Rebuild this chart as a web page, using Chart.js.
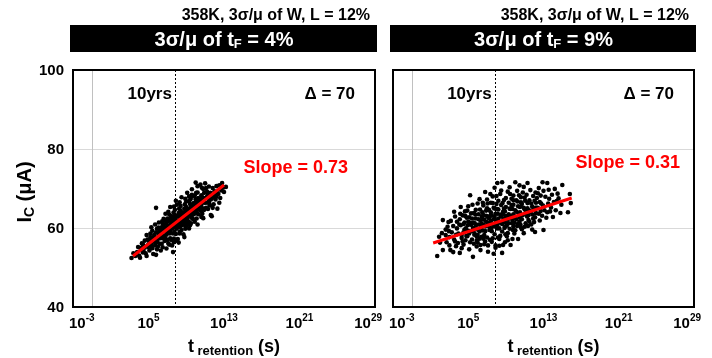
<!DOCTYPE html>
<html>
<head>
<meta charset="utf-8">
<script src="https://cdn.jsdelivr.net/npm/chart.js@4.4.1/dist/chart.umd.min.js"></script>
<style>
  html, body { margin: 0; padding: 0; background: #fff; }
  #wrap { position: relative; width: 712px; height: 358px; }
  #wrap canvas { position: absolute; left: 0; top: 0; }
</style>
</head>
<body>
<div id="wrap">
  <canvas id="left-panel" width="712" height="358"></canvas>
  <canvas id="right-panel" width="712" height="358"></canvas>
</div>
<script>
const xTickExps = [-3, 5, 13, 21, 29];
const yTicks = [40, 60, 80, 100];
const yGrid = [60, 80];
const refExp = -1;       // thin grey reference line
const tenYrsExp = 7.8;   // dashed "10yrs" marker
const conditionText = '358K, 3σ/μ of W, L = 12%';
const tfSpread = ['4%', '9%'];
const slopes = ['0.73', '0.31'];
const deltaValue = 70;

// [log10(t_retention / s), Ic (uA)]
const leftPts = [
  [3.2,52.4],[3.4,53.6],[3.6,52.9],
  [3.9,55.2],[4.0,53.0],[4.1,52.5],[4.2,54.6],[3.8,53.9],[4.3,56.1],[4.25,54.9],[4.4,53.8],
  [4.5,54.0],[4.6,56.8],[4.7,53.6],[4.8,58.2],[4.9,55.6],[4.6,55.0],[4.8,52.9],[4.9,57.1],[4.4,55.9],[4.5,55.2],
  [5.1,54.3],[5.2,57.7],[5.3,55.8],[5.4,59.3],[5.5,53.4],[5.3,56.9],[5.2,58.6],[5.4,54.9],[5.1,56.2],[5.5,57.5],[5.0,55.1],
  [5.05,56.8],[5.25,55.3],[5.6,56.6],[5.0,57.0],[5.3,60.2],
  [5.7,56.4],[5.8,53.2],[5.8,65.1],[5.9,59.8],[6.0,55.3],[6.1,58.4],[5.7,60.9],[6.0,57.2],[5.9,54.6],[6.1,61.4],[5.8,58.9],[6.2,56.0],
  [5.65,57.9],[5.95,56.4],[6.15,59.2],[6.05,60.1],[5.6,58.2],[5.7,55.6],[6.2,58.1],
  [6.3,57.4],[6.4,60.2],[6.5,55.1],[6.6,62.3],[6.4,58.6],[6.7,56.7],[6.5,61.1],[6.3,54.3],[6.6,59.5],[6.8,63.6],[6.7,58.1],[6.4,56.0],[6.6,60.8],
  [6.35,59.1],[6.55,57.5],[6.75,60.0],[6.45,61.7],[6.85,57.2],[6.3,60.0],[6.6,58.0],[6.8,61.8],
  [6.9,58.3],[7.0,61.7],[7.1,56.1],[7.2,63.4],[7.0,59.5],[7.3,57.4],[7.1,60.6],[6.9,54.8],[7.2,62.2],[7.3,65.3],[7.0,58.9],[7.2,55.8],[7.1,64.1],[6.9,61.0],
  [7.05,60.3],[7.25,58.6],[7.15,61.9],[7.35,60.9],[6.95,56.9],[7.4,63.0],[6.9,59.7],[7.0,62.4],[7.3,59.2],[7.4,61.6],[7.4,57.0],
  [7.5,59.8],[7.6,62.7],[7.7,57.3],[7.8,64.6],[7.6,60.4],[7.9,58.5],[7.7,61.9],[7.5,55.6],[7.8,63.3],[7.9,66.9],[7.6,53.9],[7.8,60.1],[7.7,65.4],[7.5,62.0],[7.9,56.8],
  [7.55,61.1],[7.75,59.0],[7.85,62.2],[7.65,63.9],[7.95,60.8],[7.7,56.4],[7.6,58.6],[7.8,61.4],
  [8.1,60.9],[8.2,63.8],[8.3,58.6],[8.4,65.6],[8.2,61.7],[8.5,59.5],[8.3,63.1],[8.1,57.2],[8.4,64.4],[8.5,67.8],[8.2,56.3],[8.4,62.4],[8.3,66.5],[8.1,62.9],[8.5,60.7],
  [8.15,61.8],[8.35,60.2],[8.45,63.3],[8.25,64.9],[8.55,62.0],[8.3,59.0],[8.0,63.0],[8.0,59.8],[8.2,60.4],[8.4,61.3],[8.0,65.9],
  [8.7,62.0],[8.8,64.9],[8.9,59.8],[9.0,66.7],[8.8,62.6],[9.1,60.9],[8.9,64.2],[8.7,58.4],[9.0,65.3],[9.1,68.9],[8.8,57.7],[9.0,63.5],[8.9,67.4],[8.7,61.3],[9.1,62.2],
  [8.75,63.4],[8.95,61.5],[9.05,64.1],[8.85,66.0],[9.15,63.9],[8.95,60.4],[8.6,63.9],[8.6,61.1],[8.8,60.8],[9.0,62.1],[9.1,64.9],
  [9.3,63.0],[9.4,66.1],[9.5,61.2],[9.6,67.9],[9.4,64.8],[9.7,62.3],[9.5,65.4],[9.3,59.9],[9.6,69.8],[9.7,65.9],[9.4,60.7],[9.5,63.7],[9.6,68.4],[9.3,66.8],
  [9.35,64.4],[9.55,62.6],[9.65,65.4],[9.45,67.3],[9.75,64.0],[9.2,62.9],[9.3,61.5],[9.5,64.7],[9.6,63.2],[9.3,68.0],
  [9.9,64.2],[10.0,67.3],[10.1,62.4],[10.2,69.0],[10.0,65.8],[10.3,63.5],[10.1,66.6],[9.9,61.6],[10.2,70.6],[10.3,67.6],[10.0,71.5],[10.1,64.7],[10.2,60.9],[9.9,68.2],
  [9.95,65.5],[10.15,63.7],[10.25,66.5],[10.05,68.9],[10.35,65.1],[9.8,66.3],[9.8,63.5],[10.0,64.1],[10.2,67.4],
  [10.5,65.3],[10.6,68.3],[10.7,63.6],[10.8,69.9],[10.6,66.9],[10.9,64.6],[10.7,67.7],[10.5,71.0],[10.8,62.5],[10.9,68.9],[10.6,65.9],[11.0,71.3],
  [10.55,67.1],[10.75,65.0],[10.85,67.6],[10.65,70.2],[10.4,64.6],[10.4,66.8],[10.6,64.3],[10.9,66.4],[10.6,62.8],
  [11.1,66.4],[11.2,69.2],[11.3,64.8],[11.4,70.5],[11.2,67.6],[11.5,65.7],[11.3,68.6],[11.6,63.3],[11.4,66.8],[11.1,70.1],[11.7,63.0],
  [11.25,68.0],[11.45,66.1],[11.55,68.9],[11.1,65.1],[11.2,67.9],[11.6,67.2],
  [11.7,67.5],[11.8,70.1],[11.9,66.0],[12.0,69.3],[12.1,67.2],[11.8,65.1],[12.2,70.6],[11.9,68.4],[12.3,64.9],
  [12.05,68.1],[12.25,69.0],[12.0,68.0],[12.2,67.9],
  [12.4,68.6],[12.5,70.8],[12.6,67.6],[12.7,69.5],[12.8,71.4],[12.5,66.4],[12.9,70.2],
  [13.0,69.1],[13.2,70.4]
];
const rightPts = [
  [1.7,52.9],[2.0,56.3],[2.2,58.7],[2.3,62.0],[2.3,54.4],[1.9,57.8],
  [2.6,59.6],[2.7,56.4],[2.9,61.5],[3.0,57.7],[3.1,54.4],[2.8,60.3],[3.0,55.6],[2.6,58.2],
  [3.25,58.9],[3.15,61.8],[2.95,59.2],
  [3.4,60.5],[3.5,57.1],[3.6,62.9],[3.7,55.4],[3.8,59.9],[3.5,64.1],[3.7,58.3],[3.4,53.9],[3.8,61.6],[3.6,56.6],
  [3.95,58.6],[4.05,60.9],[3.9,56.2],[4.15,63.6],
  [4.1,53.7],[4.2,60.7],[4.3,57.5],[4.4,63.2],[4.5,55.8],[4.6,61.4],[4.2,65.3],[4.5,58.9],[4.3,54.9],[4.6,59.6],[4.1,62.2],[4.4,56.6],
  [4.75,59.9],[4.85,62.6],[4.7,56.9],[4.95,60.7],[4.65,64.2],[4.3,58.2],[4.5,61.0],[4.7,63.0],[4.8,58.0],
  [4.9,57.9],[5.0,61.6],[5.1,54.6],[5.2,68.3],[5.3,63.7],[5.4,59.2],[5.0,65.5],[5.5,52.7],[5.2,56.4],[5.3,60.8],[5.1,62.7],[5.4,57.1],[4.9,64.4],[5.5,60.0],
  [5.55,61.4],[5.65,58.3],[5.75,63.4],[5.6,56.0],[5.45,65.9],[5.0,59.3],[5.2,61.3],[5.4,62.4],[5.1,58.6],[5.6,59.4],[5.6,63.8],
  [5.7,58.5],[5.8,62.4],[5.9,55.3],[6.0,66.2],[6.1,60.9],[6.2,57.3],[5.8,64.6],[6.3,54.4],[6.0,59.6],[6.1,63.5],[5.7,61.2],[6.2,67.3],[5.9,56.8],[6.3,61.9],[6.0,58.2],
  [6.35,60.2],[6.45,62.9],[6.4,57.8],[6.25,64.7],[6.55,66.4],[6.3,55.7],[5.8,60.6],[5.9,57.8],[6.1,62.2],[6.2,59.1],[6.4,61.1],[6.0,56.3],
  [6.5,59.4],[6.6,63.3],[6.7,55.9],[6.8,69.1],[6.9,61.6],[7.0,57.6],[6.6,65.7],[7.1,54.0],[6.8,60.4],[6.9,64.4],[6.5,62.3],[7.0,67.2],[6.7,58.2],[7.1,62.8],[6.8,56.6],[6.6,60.9],
  [7.15,61.3],[7.25,59.5],[7.2,64.6],[7.3,57.0],[7.05,66.2],[7.35,68.6],[7.1,55.6],[6.5,64.0],[6.7,62.1],[6.8,59.2],[6.9,63.1],[7.0,60.6],[6.6,57.3],[7.0,65.0],
  [7.3,60.1],[7.4,64.0],[7.5,56.5],[7.6,68.0],[7.7,62.2],[7.8,58.4],[7.4,66.4],[7.9,55.0],[7.6,61.0],[7.7,65.1],[7.3,63.0],[7.8,70.2],[7.5,59.2],[7.9,63.6],[7.6,57.4],[7.4,61.8],[7.7,53.5],
  [7.95,61.9],[8.05,59.9],[8.0,66.1],[8.15,57.6],[7.85,64.9],[8.0,68.1],[7.9,55.6],[7.2,62.5],[7.4,59.8],[7.5,63.2],[7.7,60.4],[7.8,62.8],[7.6,66.3],
  [8.1,71.4],[8.1,60.8],[8.2,64.7],[8.3,57.2],[8.4,68.6],[8.5,62.9],[8.6,59.1],[8.2,66.9],[8.7,55.7],[8.4,61.5],[8.5,65.8],[8.1,63.6],[8.6,71.6],[8.3,59.9],[8.7,64.1],[8.4,58.0],[8.2,62.4],[8.6,53.7],[8.5,69.5],
  [8.75,62.3],[8.85,60.0],[8.8,67.1],[8.95,58.4],[8.65,66.3],[8.8,64.9],[8.9,56.4],[8.0,60.8],[8.1,64.8],[8.3,61.4],[8.4,63.4],[8.6,61.0],[8.7,63.5],[8.3,55.5],
  [8.9,61.4],[9.0,65.3],[9.1,57.9],[9.2,69.2],[9.3,63.5],[9.4,59.8],[9.0,67.6],[9.5,55.7],[9.2,62.1],[9.3,66.4],[8.9,64.2],[9.4,70.3],[9.1,60.6],[9.5,64.8],[9.2,58.7],[9.0,63.0],
  [9.55,63.1],[9.65,61.2],[9.6,67.4],[9.75,59.5],[9.45,68.6],[9.6,65.8],[9.7,57.2],[8.9,60.3],[9.1,62.9],[9.3,61.2],[9.4,64.9],[9.6,62.4],[9.2,56.9],
  [9.7,62.0],[9.8,65.9],[9.9,58.6],[10.0,71.6],[10.1,64.1],[10.2,60.5],[9.8,68.2],[10.3,57.2],[10.0,62.7],[10.1,67.0],[9.7,64.8],[10.2,69.4],[9.9,61.3],[10.3,65.5],[10.0,59.4],[9.8,63.5],
  [10.35,63.8],[10.45,61.6],[10.4,68.3],[10.55,60.9],[10.25,66.7],[10.45,70.8],[9.8,60.4],[10.0,64.5],[10.1,62.2],[10.3,61.1],[9.8,67.0],
  [10.5,62.6],[10.6,66.5],[10.7,59.7],[10.8,69.0],[10.9,58.7],[11.0,64.7],[10.6,67.8],[11.1,61.2],[10.8,63.3],[10.9,70.4],[10.5,65.3],[11.0,60.3],[10.7,66.1],
  [11.15,64.5],[11.25,62.9],[11.2,68.4],[11.05,66.9],[11.35,60.5],[10.5,64.0],[10.7,62.2],[10.9,65.1],[11.1,63.7],[11.0,67.7],[10.6,60.2],
  [11.3,71.4],[11.4,63.2],[11.5,67.0],[11.6,69.6],[11.7,60.9],[11.8,65.4],[11.4,62.0],[11.9,68.1],[11.6,64.0],[11.3,66.3],[11.8,59.6],[11.5,61.6],
  [11.95,64.7],[12.05,66.9],[12.0,61.5],[12.15,69.0],[11.85,63.4],[11.3,65.0],[11.5,64.4],[11.7,66.2],[11.9,62.4],
  [12.1,59.0],[12.2,63.8],[12.3,67.6],[12.4,65.1],[12.5,70.1],[12.6,61.9],[12.2,66.4],[12.7,64.3],[12.4,68.8],[12.1,62.7],
  [12.75,66.2],[12.85,63.1],[12.7,68.2],[12.95,65.7],[12.2,65.2],[12.5,63.6],[12.6,66.6],
  [12.9,71.6],[13.0,59.5],[13.1,64.5],[13.2,67.9],[13.4,71.4],[13.3,62.6],[13.5,66.2],[13.0,69.4],[13.4,64.0],
  [13.6,67.4],[13.7,64.2],[13.55,69.7],
  [13.8,65.2],[13.9,68.4],[14.0,62.8],[14.2,69.9],[14.1,66.6],[14.3,64.5],
  [14.4,66.8],[14.5,68.7],
  [14.6,67.5],[14.8,63.8],[15.0,70.9],[14.9,65.9],
  [15.6,64.0],[15.9,66.3],[15.8,68.6]
];
// end points of the red fitted lines
const leftFit = [[3.36, 52.9], [13.0, 70.9]];
const rightFit = [[1.27, 56.2], [16.0, 67.6]];

const FONT = '"Liberation Sans", Arial, Helvetica, sans-serif';

function setFont(ctx, size) {
  ctx.font = 'bold ' + size + 'px ' + FONT;
}

function runsWidth(ctx, runs) {
  let w = 0;
  runs.forEach(r => { setFont(ctx, r.size); w += ctx.measureText(r.text).width; });
  return w;
}

// draws text made of pieces with their own size / vertical shift (sub/superscripts)
function drawRuns(ctx, runs, x, y, align) {
  const w = runsWidth(ctx, runs);
  let cx = align === 'center' ? x - w / 2 : align === 'right' ? x - w : x;
  ctx.textAlign = 'left';
  ctx.textBaseline = 'alphabetic';
  runs.forEach(r => {
    setFont(ctx, r.size);
    ctx.fillText(r.text, cx, y + (r.dy || 0));
    cx += ctx.measureText(r.text).width;
  });
  return w;
}

const panelPlugin = {
  id: 'panel',
  beforeDatasetsDraw(chart, args, opts) {
    const ctx = chart.ctx, a = chart.chartArea;
    const xs = chart.scales.x, ys = chart.scales.y;
    ctx.save();
    ctx.lineWidth = 1;
    ctx.strokeStyle = '#d9d9d9';
    yGrid.forEach(v => {
      const py = Math.round(ys.getPixelForValue(v)) + 0.5;
      ctx.beginPath(); ctx.moveTo(a.left, py); ctx.lineTo(a.right, py); ctx.stroke();
    });
    ctx.strokeStyle = '#c0c0c0';
    let px = Math.round(xs.getPixelForValue(Math.pow(10, refExp))) + 0.5;
    ctx.beginPath(); ctx.moveTo(px, a.top); ctx.lineTo(px, a.bottom); ctx.stroke();
    ctx.strokeStyle = '#000';
    ctx.setLineDash([2, 2]);
    px = Math.round(xs.getPixelForValue(Math.pow(10, tenYrsExp))) + 0.5;
    ctx.beginPath(); ctx.moveTo(px, a.top); ctx.lineTo(px, a.bottom); ctx.stroke();
    ctx.restore();
  },
  afterDraw(chart, args, opts) {
    const ctx = chart.ctx, a = chart.chartArea;
    const xs = chart.scales.x, ys = chart.scales.y;
    const i = opts.idx;
    const mid = (a.left + a.right) / 2;
    ctx.save();

    // frame
    ctx.lineWidth = 2;
    ctx.strokeStyle = '#000';
    ctx.strokeRect(a.left, a.top, a.right - a.left, a.bottom - a.top);

    // header
    ctx.fillStyle = '#000';
    drawRuns(ctx, [{ text: conditionText, size: 16 }], a.right - 5, 20, 'right');
    ctx.fillRect(a.left - 3, 25, a.right - a.left + 5, 27);
    ctx.fillStyle = '#fff';
    drawRuns(ctx, [
      { text: '3σ/μ of t', size: 20 },
      { text: 'F', size: 13, dy: 2 },
      { text: ' = ' + tfSpread[i], size: 20 }
    ], mid, 46, 'center');

    // x tick labels 10^n
    ctx.fillStyle = '#000';
    xTickExps.forEach(e => {
      const runs = [{ text: '10', size: 15 }, { text: String(e), size: 10, dy: -7 }];
      const w = runsWidth(ctx, runs);
      let left = xs.getPixelForValue(Math.pow(10, e)) - w / 2;
      left = Math.max(left, a.left - 4);
      left = Math.min(left, a.right + 7 - w);
      drawRuns(ctx, runs, left, 328, 'left');
    });
    drawRuns(ctx, [
      { text: 't', size: 18 },
      { text: ' retention', size: 13, dy: 3 },
      { text: ' (s)', size: 18 }
    ], mid + 10, 352, 'center');

    // y axis (left panel only)
    if (opts.showY) {
      setFont(ctx, 15);
      ctx.textAlign = 'right';
      ctx.textBaseline = 'middle';
      yTicks.forEach(v => ctx.fillText(String(v), a.left - 9, ys.getPixelForValue(v) + 1));
      ctx.save();
      ctx.translate(31, 192);
      ctx.rotate(-Math.PI / 2);
      drawRuns(ctx, [
        { text: 'I', size: 20 },
        { text: 'C', size: 14, dy: 3 },
        { text: ' (μA)', size: 20 }
      ], 0, 0, 'center');
      ctx.restore();
    }

    // annotations
    const dashX = xs.getPixelForValue(Math.pow(10, tenYrsExp));
    drawRuns(ctx, [{ text: '10yrs', size: 17 }], dashX - 3, 99, 'right');
    drawRuns(ctx, [{ text: 'Δ = ' + deltaValue, size: 17 }], a.right - 20, 99, 'right');
    ctx.fillStyle = '#ff0000';
    drawRuns(ctx, [{ text: 'Slope = ' + slopes[i], size: 18 }], opts.slopeX, opts.slopeY, 'right');
    ctx.restore();
  }
};

function toXY(list) {
  return list.map(p => ({ x: Math.pow(10, p[0]), y: p[1] }));
}

function makePanel(id, pts, fit, idx, pad, slopeX, slopeY) {
  return new Chart(document.getElementById(id), {
    type: 'scatter',
    data: {
      datasets: [
        {
          type: 'line',
          data: toXY(fit),
          borderColor: '#ff0000',
          borderWidth: 3,
          pointRadius: 0,
          order: 0
        },
        {
          data: toXY(pts),
          backgroundColor: '#000',
          borderWidth: 0,
          pointRadius: 2.3,
          order: 1
        }
      ]
    },
    options: {
      responsive: false,
      animation: false,
      events: [],
      layout: { padding: pad },
      scales: {
        x: { type: 'logarithmic', min: 1e-3, max: 1e29, display: false },
        y: { type: 'linear', min: 40, max: 100, display: false }
      },
      plugins: {
        legend: { display: false },
        tooltip: { enabled: false },
        panel: { idx: idx, showY: idx === 0, slopeX: slopeX, slopeY: slopeY }
      }
    },
    plugins: [panelPlugin]
  });
}

makePanel('left-panel', leftPts, leftFit, 0, { left: 73, right: 337, top: 70, bottom: 51 }, 348, 173);
makePanel('right-panel', rightPts, rightFit, 1, { left: 393, right: 18, top: 70, bottom: 51 }, 680, 168);
</script>
</body>
</html>
